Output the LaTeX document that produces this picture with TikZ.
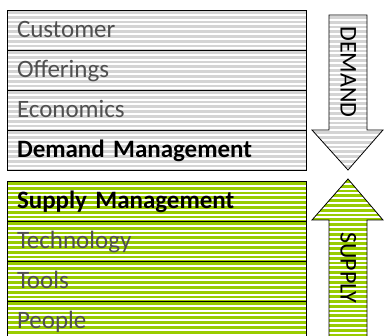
\documentclass[tikz,border=0pt]{standalone}
\usepackage{fontspec}
\setmainfont{Carlito}
\usetikzlibrary{positioning}
\definecolor{stripegray}{RGB}{212,212,212}
\definecolor{stripegreen}{RGB}{153,204,0}
\definecolor{textgray}{RGB}{80,80,80}
\begin{document}
\begin{tikzpicture}[x=1pt,y=-1pt,
  stripes/.style={fill=white,path picture={
    \foreach \k in {0,...,40}{
      \fill[#1] ([yshift=-\k*4.8pt-1pt]path picture bounding box.north west) rectangle ([yshift=-\k*4.8pt-3.8pt]path picture bounding box.north east);};}},
  item/.style={draw,line width=0.8pt,outer sep=0pt,minimum width=299pt,minimum height=40pt,
    inner xsep=10pt,inner ysep=0pt,text width=279pt,align=left,text height=16pt,text depth=0pt,
    font=\fontsize{25}{29}\selectfont,text=textgray},
  demand/.style={item,stripes=stripegray},
  supply/.style={item,stripes=stripegreen},
  head/.style={font=\fontsize{25}{29}\selectfont\bfseries,text=black},
  word/.style={rotate=-90,font=\fontsize{24}{28}\selectfont,text height=15pt,text depth=0pt,inner sep=0pt}]
\clip (0,0) rectangle (384,336);
% demand side
\node[demand,anchor=north west] (customer) at (7,10) {Customer};
\node[demand,below=0pt of customer] (offerings) {Offerings};
\node[demand,below=0pt of offerings] (economics) {Economics};
\node[demand,head,below=0pt of economics] (demandmgmt) {Demand Management};
% supply side
\node[supply,head,below=11pt of demandmgmt] (supplymgmt) {Supply Management};
\node[supply,below=0pt of supplymgmt] (technology) {Technology};
\node[supply,below=0pt of technology] (tools) {Tools};
\node[supply,below=0pt of tools] (people) {People};
% arrows
\draw[stripes=stripegray,line width=0.8pt] (329,15)--(367,15)--(367,130)--(383,130)--(348,170)--(312,130)--(329,130)--cycle;
\node[word] (demandword) at (348,72) {DEMAND};
\draw[stripes=stripegreen,line width=0.8pt] (348,179)--(383,220)--(367,220)--(367,340)--(329,340)--(329,220)--(312,220)--cycle;
\node[word] (supplyword) at (348,268) {SUPPLY};
\end{tikzpicture}
\end{document}
